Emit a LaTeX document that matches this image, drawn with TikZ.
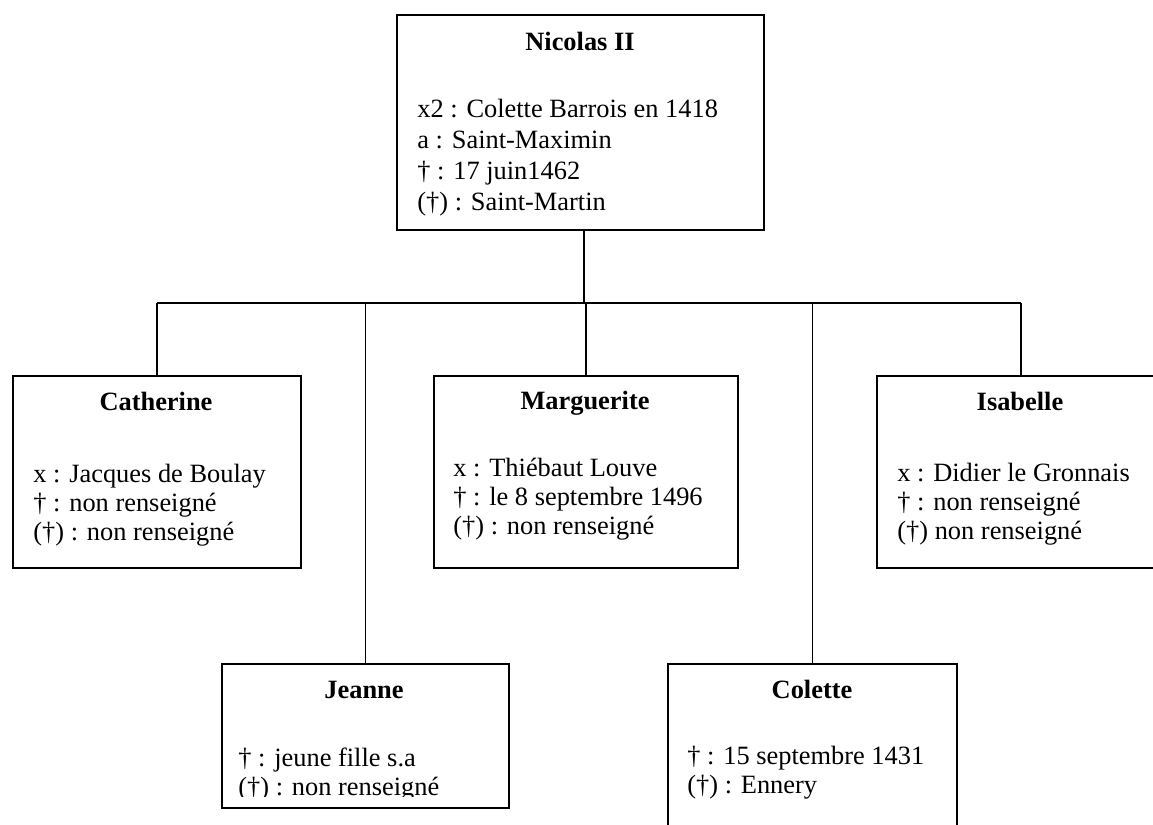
\documentclass[tikz,border=0pt]{standalone}
\usepackage{fontspec}
\setmainfont{Liberation Serif}
\newcommand\treefont{\fontsize{13.2pt}{14.5pt}\selectfont}
\tikzset{
  person/.style={draw, line width=0.9pt, anchor=north west, inner sep=0pt},
  title/.style={anchor=base, inner sep=0pt, font=\treefont\bfseries},
  facts/.style={anchor=base west, align=left, inner sep=0pt},
  link/.style={line width=0.9pt}
}
\begin{document}
\begin{tikzpicture}[x=0.5pt,y=-0.5pt,font=\treefont]
\useasboundingbox (0,0) rectangle (1153,825);
\clip (0,0) rectangle (1153,825);
% father
\node[person, minimum width=183.5pt, minimum height=107.5pt] (nicolas) at (396,14) {};
\node[title] (nicolas-name) at (580,50) {Nicolas II};
\node[facts, font=\fontsize{13.2pt}{15.5pt}\selectfont] (nicolas-facts) at (417,210) {x2 : Colette Barrois en 1418\\a : Saint-Maximin\\† : 17 juin1462\\(†) : Saint-Martin};
% first row of children
\node[person, minimum width=144pt, minimum height=96pt] (catherine) at (12,375) {};
\node[title] (catherine-name) at (156,410) {Catherine};
\node[facts] (catherine-facts) at (33,540) {x : Jacques de Boulay\\† : non renseigné\\(†) : non renseigné};
\node[person, minimum width=152pt, minimum height=96pt] (marguerite) at (433,375) {};
\node[title] (marguerite-name) at (585,409) {Marguerite};
\node[facts] (marguerite-facts) at (453,534) {x : Thiébaut Louve\\† : le 8 septembre 1496\\(†) : non renseigné};
\node[person, minimum width=144pt, minimum height=96pt] (isabelle) at (876,375) {};
\node[title] (isabelle-name) at (1020,410) {Isabelle};
\node[facts] (isabelle-facts) at (897,539) {x : Didier le Gronnais\\† : non renseigné\\(†) non renseigné};
% second row of children
\node[person, minimum width=143.5pt, minimum height=72pt] (jeanne) at (221,663) {};
\node[title] (jeanne-name) at (364,698) {Jeanne};
\begin{scope}
\clip (221,663) rectangle (508,796);
\node[facts] (jeanne-facts) at (238,795) {† : jeune fille s.a\\(†) : non renseigné};
\end{scope}
\node[person, minimum width=144.5pt, minimum height=100pt] (colette) at (667,663) {};
\node[title] (colette-name) at (812,698) {Colette};
\node[facts] (colette-facts) at (687,793) {† : 15 septembre 1431\\(†) : Ennery};
% links
\coordinate (fork) at (584,303);
\draw[link] (nicolas.south -| fork) -- (fork);
\draw[link] (catherine.north |- fork) -- (isabelle.north |- fork);
\foreach \kid in {catherine,jeanne,marguerite,colette,isabelle}
  \draw[link] (\kid.north) -- (\kid.north |- fork);
\end{tikzpicture}
\end{document}
